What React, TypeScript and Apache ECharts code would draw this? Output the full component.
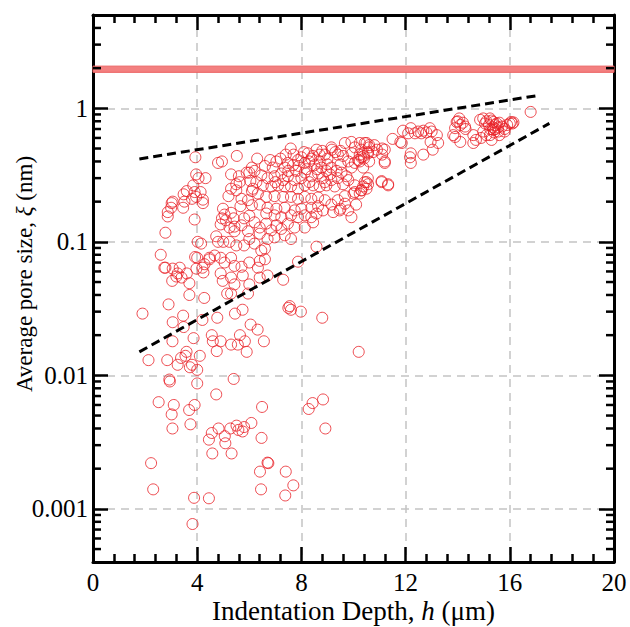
import React, { useEffect, useRef } from "react";
import * as echarts from "echarts";

// Indentation depth h (µm), average pore size ξ (nm)
const lowPoints: [number, number][] = [
  [1.9, 0.029], [2.9, 0.034], [3.7, 0.04], [4.27, 0.038], [5.15, 0.041], [3.06, 0.025], [3.46, 0.028],
  [3.48, 0.023], [4.2, 0.026], [4.77, 0.027], [5.45, 0.029], [5.74, 0.031], [6.05, 0.024], [6.32, 0.022],
  [3.05, 0.018], [3.86, 0.019], [4.56, 0.02], [4.6, 0.018], [4.9, 0.018], [5.3, 0.017], [5.56, 0.017],
  [5.64, 0.02], [5.83, 0.018], [5.9, 0.015], [6.56, 0.018], [4.75, 0.0152], [2.13, 0.013], [2.85, 0.013],
  [3.25, 0.012], [3.38, 0.0135], [3.59, 0.015], [3.55, 0.014], [4.1, 0.014], [3.72, 0.0115], [3.8, 0.012],
  [4.0, 0.011], [2.93, 0.0093], [2.95, 0.009], [4.0, 0.0087], [5.4, 0.0094], [2.52, 0.0063], [3.1, 0.006],
  [3.02, 0.0051], [3.9, 0.006], [3.69, 0.0055], [4.73, 0.0072], [3.05, 0.004], [3.74, 0.0043], [4.45, 0.0033],
  [4.56, 0.0037], [4.82, 0.004], [5.06, 0.0035], [5.08, 0.0031], [5.27, 0.004], [5.51, 0.0042], [5.58, 0.0039],
  [5.74, 0.0038], [5.8, 0.0041], [6.08, 0.0044], [5.32, 0.0026], [4.58, 0.0026], [6.47, 0.0034], [6.49, 0.0058],
  [2.23, 0.0022], [2.31, 0.0014], [6.41, 0.0019], [6.73, 0.0022], [6.7, 0.00222], [6.45, 0.0014], [7.4, 0.0019],
  [7.69, 0.0015], [7.38, 0.00126], [3.88, 0.00121], [4.45, 0.0012], [3.82, 0.00077], [7.5, 0.032], [7.55, 0.033],
  [7.6, 0.031], [7.98, 0.03], [8.28, 0.0056], [8.43, 0.0062], [8.8, 0.027], [10.2, 0.015], [8.83, 0.0066],
  [8.92, 0.004],
];

const midPoints: [number, number][] = [
  [5.3, 0.041], [5.95, 0.041], [2.6, 0.08], [2.78, 0.064], [3.33, 0.064], [3.25, 0.058], [3.04, 0.051],
  [3.2, 0.055], [3.6, 0.058], [3.7, 0.049], [3.97, 0.063], [3.92, 0.077], [4.0, 0.076], [4.28, 0.068],
  [4.24, 0.059], [4.47, 0.076], [4.67, 0.079], [4.9, 0.076], [5.05, 0.07], [5.3, 0.076], [5.43, 0.066],
  [5.7, 0.065], [6.0, 0.07], [4.9, 0.058], [4.98, 0.051], [5.3, 0.054], [5.43, 0.048], [5.75, 0.056],
  [6.0, 0.048], [4.02, 0.1], [4.15, 0.097], [4.73, 0.11], [4.8, 0.1], [5.0, 0.1], [5.24, 0.1], [5.5, 0.094],
  [6.0, 0.105], [5.8, 0.094], [6.2, 0.097], [6.6, 0.089], [6.46, 0.086], [8.58, 0.092], [7.87, 0.071],
  [7.3, 0.052], [6.7, 0.056], [6.4, 0.054], [6.33, 0.064], [6.6, 0.074], [6.4, 0.072], [4.47, 0.074],
  [4.2, 0.064], [3.4, 0.054], [2.74, 0.064], [3.06, 0.063],
];

const leftUpperPoints: [number, number][] = [
  [3.93, 0.43], [4.8, 0.39], [4.95, 0.4], [5.52, 0.44], [3.96, 0.32], [4.05, 0.3], [4.32, 0.3], [3.85, 0.265],
  [4.13, 0.236], [3.6, 0.24], [3.48, 0.227], [3.8, 0.21], [4.22, 0.207], [4.22, 0.195], [3.51, 0.2], [3.46, 0.18],
  [3.02, 0.195], [3.0, 0.18], [2.87, 0.167], [2.87, 0.155], [3.9, 0.147], [2.78, 0.117], [3.9, 0.236],
  [3.96, 0.217], [3.06, 0.2],
];

const clusterLeftPoints: [number, number][] = [
  [5.3, 0.32], [5.6, 0.31], [5.63, 0.28], [5.5, 0.243], [6.04, 0.286], [6.14, 0.25], [6.1, 0.24], [5.7, 0.21],
  [5.66, 0.185], [5.95, 0.205], [6.1, 0.188], [4.99, 0.177], [5.05, 0.16], [4.95, 0.15], [5.1, 0.145],
  [4.9, 0.135], [5.3, 0.165], [5.4, 0.15], [5.24, 0.128], [5.43, 0.13], [5.7, 0.133], [5.8, 0.15], [6.0, 0.157],
  [5.95, 0.12], [5.43, 0.12], [6.3, 0.42], [6.1, 0.36], [5.9, 0.33], [5.3, 0.25], [5.5, 0.27], [5.2, 0.22],
];

const clusterCorePoints: [number, number][] = [
  [7.59, 0.5], [7.04, 0.4], [7.87, 0.41], [8.0, 0.43], [8.25, 0.46], [8.38, 0.42], [8.58, 0.49], [8.7, 0.45],
  [8.9, 0.45], [9.15, 0.51], [9.17, 0.49], [9.4, 0.45], [9.5, 0.48], [9.67, 0.55], [9.92, 0.56], [10.05, 0.51],
  [10.3, 0.49], [10.43, 0.55], [10.6, 0.53], [10.55, 0.47], [10.24, 0.45], [10.4, 0.42], [10.18, 0.41],
  [10.05, 0.39], [9.8, 0.4], [9.92, 0.36],
  [7.48, 0.39], [7.36, 0.36], [7.68, 0.375], [7.8, 0.34], [8.13, 0.39], [8.3, 0.4], [8.5, 0.375], [8.7, 0.4],
  [8.77, 0.36], [8.96, 0.34], [9.15, 0.36], [9.35, 0.34], [9.54, 0.33], [9.73, 0.31], [9.4, 0.3], [9.15, 0.29],
  [9.1, 0.32], [8.83, 0.3], [8.64, 0.325], [8.38, 0.31], [8.13, 0.33], [8.0, 0.3], [7.74, 0.29], [7.48, 0.31],
  [7.23, 0.325], [6.97, 0.31], [6.7, 0.3], [6.46, 0.315], [6.2, 0.34], [6.27, 0.28], [6.52, 0.265], [6.85, 0.26],
  [7.1, 0.265], [7.36, 0.26], [7.6, 0.26], [7.87, 0.25], [8.13, 0.265], [8.45, 0.265], [8.7, 0.26], [8.96, 0.265],
  [9.28, 0.26], [9.6, 0.27], [10.05, 0.265], [10.43, 0.28], [10.55, 0.3], [10.3, 0.243], [10.0, 0.23],
  [9.67, 0.22], [9.4, 0.205], [9.15, 0.19], [8.9, 0.205], [8.64, 0.215], [8.38, 0.21], [8.13, 0.217],
  [7.87, 0.21], [7.6, 0.217], [7.3, 0.217], [6.97, 0.22], [6.65, 0.217], [6.33, 0.23], [6.4, 0.19], [6.7, 0.18],
  [7.04, 0.177], [7.36, 0.18], [7.74, 0.172], [8.0, 0.177], [8.38, 0.18], [8.64, 0.185], [8.83, 0.172],
  [8.58, 0.163], [8.38, 0.153], [8.13, 0.158], [7.87, 0.153], [7.6, 0.158], [7.23, 0.153], [6.97, 0.158],
  [6.65, 0.163], [9.22, 0.167], [9.5, 0.177], [9.8, 0.172], [10.1, 0.19],
  [6.2, 0.14], [6.4, 0.128], [6.65, 0.137], [6.85, 0.122], [7.04, 0.133], [7.23, 0.125], [7.48, 0.137],
  [7.74, 0.128], [7.36, 0.112], [7.6, 0.105], [6.7, 0.105], [6.97, 0.108], [6.4, 0.115], [8.13, 0.128],
  [8.45, 0.14],
  [11.2, 0.39], [11.08, 0.28], [11.33, 0.265], [10.5, 0.28], [10.37, 0.26], [10.05, 0.236], [9.92, 0.153],
  [9.47, 0.172], [9.67, 0.193],
  [7.2, 0.42], [7.7, 0.45], [8.1, 0.47], [8.45, 0.44], [8.8, 0.48], [9.0, 0.42], [9.3, 0.47], [9.6, 0.44],
  [7.9, 0.37], [8.6, 0.35], [9.0, 0.38], [9.5, 0.38], [8.2, 0.35], [7.5, 0.34], [6.9, 0.36], [6.6, 0.37],
  [7.0, 0.28], [7.3, 0.29], [8.3, 0.28], [8.9, 0.28], [9.8, 0.29], [6.0, 0.33], [6.8, 0.41], [7.4, 0.45],
  [9.95, 0.46],
];

const clusterRightPoints: [number, number][] = [
  [10.24, 0.55], [10.5, 0.55], [10.6, 0.51], [10.8, 0.53], [10.9, 0.49], [11.1, 0.5], [11.2, 0.49], [11.1, 0.45],
  [11.2, 0.4], [10.75, 0.47], [10.56, 0.46], [10.4, 0.44], [10.3, 0.43], [10.24, 0.4], [10.37, 0.36],
  [10.6, 0.4], [10.56, 0.27], [10.5, 0.25], [10.3, 0.243], [11.08, 0.285], [11.33, 0.27], [10.24, 0.23],
];

const deepPoints: [number, number][] = [
  [11.5, 0.59], [11.8, 0.56], [11.85, 0.55], [11.9, 0.68], [12.1, 0.65], [12.2, 0.71], [12.36, 0.65],
  [12.48, 0.67], [12.6, 0.65], [12.68, 0.68], [12.8, 0.66], [12.93, 0.71], [13.0, 0.67], [13.2, 0.63],
  [12.96, 0.56], [13.25, 0.55], [13.04, 0.49], [12.2, 0.46], [12.17, 0.43], [12.2, 0.39], [12.68, 0.45],
  [13.9, 0.71], [13.96, 0.79], [14.06, 0.84], [14.0, 0.8], [14.2, 0.78], [14.1, 0.75], [13.83, 0.63],
  [13.9, 0.61], [14.1, 0.56], [14.28, 0.73], [14.3, 0.7], [14.6, 0.63], [14.6, 0.55], [14.7, 0.58],
  [14.86, 0.82], [14.98, 0.84], [15.1, 0.8], [15.05, 0.77], [14.98, 0.67], [14.9, 0.6], [15.24, 0.63],
  [15.2, 0.75], [15.24, 0.84], [15.3, 0.81], [15.37, 0.79], [15.43, 0.75], [15.5, 0.77], [15.37, 0.69],
  [15.56, 0.67], [15.6, 0.63], [15.7, 0.73], [15.8, 0.7], [15.9, 0.75], [16.0, 0.77], [16.05, 0.79],
  [16.1, 0.77], [16.14, 0.785], [15.8, 0.67], [15.3, 0.58], [15.1, 0.63], [16.8, 0.94], [15.35, 0.72],
  [15.45, 0.7], [15.25, 0.7], [15.55, 0.72], [15.4, 0.66], [15.6, 0.78],
];

const upperBoundLine: [number, number][] = [[1.78, 0.418], [17.04, 1.244]];
const lowerBoundLine: [number, number][] = [[1.78, 0.015], [17.52, 0.771]];
const bandRange: [number, number] = [1.86, 2.07];

const yTickValues = [0.001, 0.01, 0.1, 1];
const yTickLabels = ["0.001", "0.01", "0.1", "1"];
const yMinorTicks = [
  0.0005, 0.0006, 0.0007, 0.0008, 0.0009,
  0.002, 0.003, 0.004, 0.005, 0.006, 0.007, 0.008, 0.009,
  0.02, 0.03, 0.04, 0.05, 0.06, 0.07, 0.08, 0.09,
  0.2, 0.3, 0.4, 0.5, 0.6, 0.7, 0.8, 0.9,
  2, 3, 4,
];

const FONT = "Liberation Serif";
const RED = "rgb(232, 30, 36)";

export default function App() {
  const ref = useRef<HTMLDivElement>(null);

  useEffect(() => {
    if (!ref.current) return;
    const chart = echarts.init(ref.current, undefined, { renderer: "svg" });

    const allPoints = [
      ...lowPoints, ...midPoints, ...leftUpperPoints, ...clusterLeftPoints,
      ...clusterCorePoints, ...clusterRightPoints, ...deepPoints,
    ];

    const axisLine = { show: true, onZero: false, lineStyle: { color: "#000", width: 3 } };
    const xCommon = {
      type: "value" as const,
      min: 0,
      max: 20,
      interval: 4,
      axisLine,
      axisTick: { show: true, inside: true, length: 15, lineStyle: { color: "#000", width: 2.5 } },
      minorTick: { show: true, splitNumber: 5, length: 8, lineStyle: { color: "#000", width: 2.5 } },
    };
    const yCommon = {
      type: "log" as const,
      logBase: 10,
      min: 0.0004,
      max: 5,
      axisLine,
      axisTick: { show: true, inside: true, length: 15, lineStyle: { color: "#000", width: 2.5 } },
    };

    const labelFormatter = (v: number) => {
      for (let i = 0; i < yTickValues.length; i++) {
        if (Math.abs(v - yTickValues[i]) / yTickValues[i] < 1e-6) return yTickLabels[i];
      }
      return "";
    };

    const xTitleStyle = {
      fontFamily: FONT, fontSize: 27, color: "#000",
      rich: {
        r: { fontFamily: FONT, fontSize: 27, color: "#000" },
        i: { fontFamily: FONT, fontSize: 27, fontStyle: "italic", color: "#000" },
      },
    };

    chart.setOption({
      animation: false,
      backgroundColor: "#fff",
      textStyle: { fontFamily: FONT },
      grid: { left: 93, right: 16, top: 15, bottom: 65, containLabel: false, outerBoundsMode: "none" },
      graphic: [
        {
          type: "text",
          x: 24,
          y: 274,
          rotation: Math.PI / 2,
          style: {
            text: "{r|Average pore size, }{i|ξ}{r| (nm)}",
            align: "center",
            verticalAlign: "middle",
            fill: "#000",
            font: `22px ${FONT}`,
            rich: {
              r: { fontFamily: FONT, fontSize: 23, fill: "#000", color: "#000" },
              i: { fontFamily: FONT, fontSize: 23, fontStyle: "italic", fill: "#000", color: "#000" },
            },
          },
        },
      ],
      xAxis: [
        {
          ...xCommon,
          position: "bottom",
          name: "{r|Indentation Depth, }{i|h}{r| (μm)}",
          nameLocation: "middle",
          nameGap: 35,
          nameMoveOverlap: false,
          nameTextStyle: xTitleStyle,
          axisLabel: { show: true, margin: 8, fontFamily: FONT, fontSize: 25, color: "#000", showMinLabel: true, showMaxLabel: true },
          splitLine: { show: true, lineStyle: { color: "#c4c4c4", width: 1.5, type: [8, 6] } },
        },
        {
          ...xCommon,
          position: "top",
          axisLabel: { show: false },
          splitLine: { show: false },
        },
      ],
      yAxis: [
        {
          ...yCommon,
          position: "left",
          axisLabel: {
            show: true, margin: 5, fontFamily: FONT, fontSize: 25, color: "#000",
            showMinLabel: false, showMaxLabel: false, formatter: labelFormatter,
          },
          splitLine: { show: true, lineStyle: { color: "#c4c4c4", width: 1.5, type: [8, 6] } },
        },
        {
          ...yCommon,
          position: "right",
          axisLabel: { show: false },
          splitLine: { show: false },
        },
      ],
      series: [
        {
          type: "scatter",
          xAxisIndex: 0,
          yAxisIndex: 0,
          data: allPoints,
          symbol: "circle",
          symbolSize: 11,
          itemStyle: { color: "rgba(0,0,0,0)", borderColor: RED, borderWidth: 1 },
          markArea: {
            silent: true,
            itemStyle: { color: "rgb(243, 128, 128)", borderColor: "rgb(235, 95, 95)", borderWidth: 1 },
            data: [[{ yAxis: bandRange[0] }, { yAxis: bandRange[1] }]],
          },
          z: 2,
        },
        {
          type: "line",
          xAxisIndex: 0,
          yAxisIndex: 0,
          data: upperBoundLine,
          symbol: "none",
          lineStyle: { color: "#000", width: 3, type: [9, 5] },
          z: 3,
        },
        {
          type: "line",
          xAxisIndex: 0,
          yAxisIndex: 0,
          data: lowerBoundLine,
          symbol: "none",
          lineStyle: { color: "#000", width: 3, type: [9, 5] },
          z: 3,
        },
        {
          type: "custom",
          xAxisIndex: 0,
          yAxisIndex: 0,
          silent: true,
          clip: false,
          z: 5,
          data: yMinorTicks.map((v) => [0, v]),
          renderItem: (_params: any, api: any) => {
            const v = api.value(1);
            const pl = api.coord([0, v]);
            const pr = api.coord([20, v]);
            const style = { stroke: "#000", lineWidth: 2.5 };
            return {
              type: "group",
              children: [
                { type: "line", shape: { x1: pl[0], y1: pl[1], x2: pl[0] + 8, y2: pl[1] }, style },
                { type: "line", shape: { x1: pr[0], y1: pr[1], x2: pr[0] - 8, y2: pr[1] }, style },
              ],
            };
          },
        },
      ],
    });

    return () => chart.dispose();
  }, []);

  return (
    <div
      ref={ref}
      style={{ position: "fixed", left: 0, top: 0, width: 630, height: 627, background: "#fff" }}
    />
  );
}
